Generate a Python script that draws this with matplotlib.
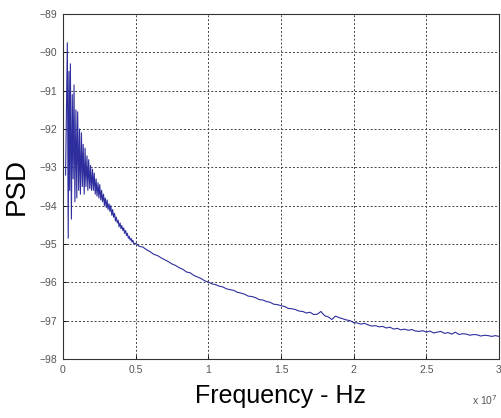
import numpy as np
import matplotlib
matplotlib.use("Agg")
import matplotlib.pyplot as plt

plt.rcParams['font.family'] = ['Liberation Sans', 'DejaVu Sans']

# frequency in units of 1e7 Hz, PSD values
head_freq = [0.018, 0.030, 0.036, 0.041, 0.046, 0.051, 0.058, 0.064, 0.070, 0.076,
             0.082, 0.089, 0.095, 0.101, 0.108, 0.114, 0.120, 0.127, 0.133, 0.139,
             0.146, 0.152, 0.158, 0.165, 0.171, 0.177, 0.184, 0.190, 0.196, 0.203,
             0.209, 0.215, 0.222, 0.228, 0.234, 0.241, 0.247, 0.253, 0.260, 0.266,
             0.272, 0.279, 0.285, 0.291, 0.298, 0.304, 0.310, 0.317, 0.323, 0.329,
             0.336, 0.342, 0.348, 0.355, 0.361, 0.367, 0.374, 0.380, 0.386, 0.393,
             0.399, 0.405, 0.412, 0.418, 0.424, 0.431, 0.437, 0.443, 0.450, 0.456,
             0.462, 0.469, 0.475, 0.481, 0.488]
head_psd = [-93.2, -89.75, -94.85, -90.5, -93.6, -90.3, -94.35, -91.1, -93.3, -90.85,
            -93.9, -91.5, -93.8, -91.55, -93.6, -92.0, -93.7, -92.1, -93.5, -92.4,
            -93.7, -92.5, -93.5, -92.7, -93.6, -92.8, -93.55, -92.95, -93.6, -93.05,
            -93.6, -93.15, -93.7, -93.3, -93.75, -93.4, -93.8, -93.45, -93.85, -93.6,
            -93.9, -93.7, -94.0, -93.8, -94.05, -93.85, -94.1, -93.95, -94.15, -94.0,
            -94.25, -94.1, -94.3, -94.2, -94.4, -94.3, -94.45, -94.38, -94.55, -94.45,
            -94.6, -94.52, -94.65, -94.58, -94.72, -94.65, -94.78, -94.72, -94.85, -94.8,
            -94.9, -94.85, -94.95, -94.9, -95.0]

tail_psd = [-94.98, -95.06, -95.08, -95.15, -95.2, -95.27, -95.3, -95.36, -95.41, -95.46,
            -95.52, -95.56, -95.62, -95.66, -95.73, -95.75, -95.82, -95.86, -95.9, -95.96,
            -95.99, -96.04, -96.06, -96.1, -96.12, -96.17, -96.19, -96.21, -96.26, -96.28,
            -96.31, -96.36, -96.37, -96.4, -96.45, -96.46, -96.5, -96.52, -96.57, -96.58,
            -96.61, -96.63, -96.68, -96.69, -96.71, -96.75, -96.76, -96.8, -96.78, -96.84,
            -96.83, -96.76, -96.87, -96.9, -96.97, -96.88, -96.92, -96.95, -96.98, -97.0,
            -97.05, -97.06, -97.09, -97.07, -97.11, -97.14, -97.13, -97.16, -97.15, -97.19,
            -97.17, -97.22, -97.2, -97.24, -97.22, -97.25, -97.23, -97.27, -97.28, -97.26,
            -97.3, -97.27, -97.32, -97.3, -97.28, -97.33, -97.31, -97.35, -97.3, -97.36,
            -97.34, -97.35, -97.38, -97.36, -97.37, -97.4, -97.38, -97.39, -97.41, -97.39,
            -97.41]
tail_freq = np.linspace(0.5, 3.0, len(tail_psd))

freq = np.concatenate([head_freq, tail_freq])
psd = np.concatenate([head_psd, tail_psd])

xticks = [0, 0.5, 1, 1.5, 2, 2.5, 3]
xticklabels = ['0', '0.5', '1', '1.5', '2', '2.5', '3']
yticks = [-98, -97, -96, -95, -94, -93, -92, -91, -90, -89]

fig = plt.figure(figsize=(5.01, 4.18), dpi=100)
ax = fig.add_axes([0.1257, 0.1411, 0.8703, 0.8254])

ax.plot(freq, psd, color='#2e2e9e', lw=0.8)

ax.set_xlim(0, 3)
ax.set_ylim(-98, -89)
ax.set_xticks(xticks)
ax.set_xticklabels(xticklabels)
ax.set_yticks(yticks)
ax.tick_params(direction='in', length=3, width=0.6, labelsize=7.5,
               labelcolor='#555555', pad=4)
ax.grid(True, color='#444444', linestyle=(0, (2, 2)), lw=0.7)
for sp in ax.spines.values():
    sp.set_linewidth(0.8)
    sp.set_color('#333333')

ax.set_xlabel("Frequency - Hz", fontsize=18, labelpad=7)
ax.set_ylabel("PSD", fontsize=20, labelpad=7)
fig.text(0.994, 0.03, r"x 10$^7$", fontsize=7.5, color='#555555', ha='right')

fig.savefig("out.png", dpi=100)
